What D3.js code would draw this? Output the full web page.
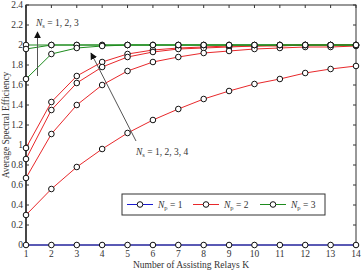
<!DOCTYPE html>
<html>
<head>
<meta charset="utf-8">
<script src="https://cdn.jsdelivr.net/npm/d3@7"></script>
<style>
  body { margin: 0; background: #fff; }
  text { font-family: "Liberation Serif", "Times New Roman", serif; fill: #333; }
</style>
</head>
<body>
<svg id="chart" width="362" height="273"></svg>
<script>
// relays K on the x axis
var relays = [1,2,3,4,5,6,7,8,9,10,11,12,13,14];
var yTicks = [0,0.2,0.4,0.6,0.8,1,1.2,1.4,1.6,1.8,2,2.2,2.4];
var yTickLabels = ["0","0.2","0.4","0.6","0.8","1","1.2","1.4","1.6","1.8","2","2.2","2.4"];

// Np = 1 (one curve, all zero)
var np1 = [
  [0,0,0,0,0,0,0,0,0,0,0,0,0,0]
];
// Np = 2, Ns = 1..4
var np2 = [
  [0.97,1.43,1.69,1.83,1.91,1.95,1.97,1.98,1.99,1.99,2.0,2.0,2.0,2.0],
  [0.86,1.35,1.62,1.78,1.88,1.93,1.96,1.97,1.98,1.99,1.99,2.0,2.0,2.0],
  [0.67,1.11,1.40,1.60,1.74,1.83,1.88,1.92,1.94,1.96,1.97,1.98,1.98,1.99],
  [0.30,0.56,0.78,0.96,1.12,1.25,1.36,1.46,1.54,1.61,1.66,1.72,1.76,1.79]
];
// Np = 3, Ns = 1..3
var np3 = [
  [2.0,2.0,2.0,2.0,2.0,2.0,2.0,2.0,2.0,2.0,2.0,2.0,2.0,2.0],
  [1.96,2.0,2.0,2.0,2.0,2.0,2.0,2.0,2.0,2.0,2.0,2.0,2.0,2.0],
  [1.66,1.91,1.97,1.99,2.0,2.0,2.0,2.0,2.0,2.0,2.0,2.0,2.0,2.0]
];
var legendNames = ["1","2","3"];
var colors = ["#1a1ad0", "#e8282b", "#1e8c1e"];

var svg = d3.select("#chart");
// plot box (window.top is reserved, so use other names)
var pLeft = 26, pRight = 356, pTop = 5, pBottom = 245;

var x = d3.scaleLinear().domain([1,14]).range([pLeft,pRight]);
var y = d3.scaleLinear().domain([0,2.4]).range([pBottom,pTop]);

// frame
svg.append("rect")
    .attr("x", pLeft).attr("y", pTop)
    .attr("width", pRight-pLeft).attr("height", pBottom-pTop)
    .attr("fill", "none").attr("stroke", "#333").attr("stroke-width", 1);
svg.append("line").attr("x1", pLeft).attr("x2", pLeft).attr("y1", pTop).attr("y2", pBottom)
    .attr("stroke", "#333").attr("stroke-width", 1.6);

// ticks on all four sides, pointing inwards
var ax = svg.append("g");
relays.forEach(function(k) {
    ax.append("line").attr("x1", x(k)).attr("x2", x(k)).attr("y1", pBottom).attr("y2", pBottom-3).attr("stroke", "#333");
    ax.append("line").attr("x1", x(k)).attr("x2", x(k)).attr("y1", pTop).attr("y2", pTop+3).attr("stroke", "#333");
    ax.append("text").attr("x", x(k)).attr("y", pBottom+12)
        .attr("text-anchor", "middle").attr("font-size", 9.5).text(k);
});
yTicks.forEach(function(v, i) {
    ax.append("line").attr("x1", pLeft).attr("x2", pLeft+3).attr("y1", y(v)).attr("y2", y(v)).attr("stroke", "#333");
    ax.append("line").attr("x1", pRight).attr("x2", pRight-3).attr("y1", y(v)).attr("y2", y(v)).attr("stroke", "#333");
    ax.append("text").attr("x", pLeft-3).attr("y", y(v)+3.3)
        .attr("text-anchor", "end").attr("font-size", 9.5).text(yTickLabels[i]);
});

svg.append("text").attr("x", 191).attr("y", 268).attr("text-anchor", "middle")
    .attr("font-size", 9.5).text("Number of Assisting Relays K");
svg.append("text").attr("transform", "translate(9," + ((pTop+pBottom)/2) + ") rotate(-90)")
    .attr("text-anchor", "middle").attr("font-size", 9.5).text("Average Spectral Efficiency");

var line = d3.line().x(function(d, i) { return x(relays[i]); }).y(function(d) { return y(d); });

function drawGroup(group, color) {
    group.forEach(function(vals) {
        svg.append("path").datum(vals).attr("d", line)
            .attr("fill", "none").attr("stroke", color).attr("stroke-width", 1);
    });
    group.forEach(function(vals) {
        svg.selectAll(null).data(vals).enter().append("circle")
            .attr("cx", function(d, i) { return x(relays[i]); })
            .attr("cy", function(d) { return y(d); })
            .attr("r", 2.8)
            .attr("fill", "#fff").attr("stroke", "#111").attr("stroke-width", 1);
    });
}
drawGroup(np1, colors[0]);
drawGroup(np2, colors[1]);
drawGroup(np3, colors[2]);

// arrows and annotations
var defs = svg.append("defs");
defs.append("marker").attr("id", "ah").attr("viewBox", "0 0 10 10")
    .attr("refX", 9).attr("refY", 5).attr("markerWidth", 7).attr("markerHeight", 7)
    .attr("orient", "auto").attr("markerUnits", "userSpaceOnUse")
  .append("path").attr("d", "M0,0 L10,5 L0,10 z").attr("fill", "#111");

svg.append("line").attr("x1", 37.5).attr("y1", 76).attr("x2", 37.5).attr("y2", 32)
    .attr("stroke", "#555").attr("stroke-width", 1).attr("marker-end", "url(#ah)");
svg.append("line").attr("x1", 136).attr("y1", 141).attr("x2", 91).attr("y2", 53)
    .attr("stroke", "#555").attr("stroke-width", 1).attr("marker-end", "url(#ah)");

function sublabel(g, xPos, yPos, sub, rest) {
    var t = g.append("text").attr("x", xPos).attr("y", yPos).attr("font-size", 9.5);
    t.append("tspan").attr("font-style", "italic").text("N");
    t.append("tspan").attr("font-size", 6.5).attr("dy", 2).text(sub);
    t.append("tspan").attr("dy", -2).text(" = " + rest);
    return t;
}
sublabel(svg, 36, 26, "s", "1, 2, 3");
sublabel(svg, 136, 155, "s", "1, 2, 3, 4");

// legend
var lg = svg.append("g");
lg.append("rect").attr("x", 122).attr("y", 194).attr("width", 203).attr("height", 21)
    .attr("fill", "#fff").attr("stroke", "#333").attr("stroke-width", 1);
var legX = [127, 193, 260];
legendNames.forEach(function(n, i) {
    lg.append("line").attr("x1", legX[i]).attr("x2", legX[i]+26).attr("y1", 204.5).attr("y2", 204.5)
        .attr("stroke", colors[i]).attr("stroke-width", 1);
    lg.append("circle").attr("cx", legX[i]+13).attr("cy", 204.5).attr("r", 2.8)
        .attr("fill", "#fff").attr("stroke", "#111");
    sublabel(lg, legX[i]+31, 208, "p", n);
});
</script>
</body>
</html>
